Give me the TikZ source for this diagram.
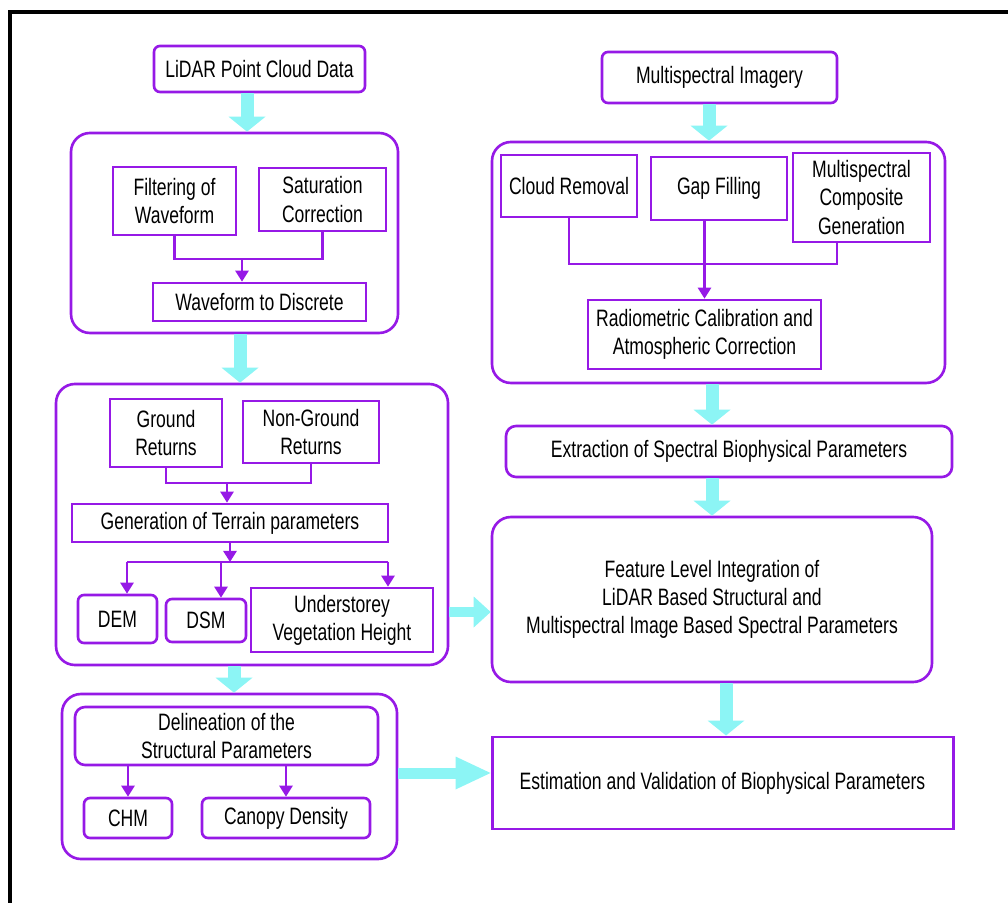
\documentclass[tikz,border=0pt]{standalone}
\usepackage{fontspec}
\setmainfont{Liberation Sans}[FakeStretch=0.74]
\usepackage{tikz}
\usetikzlibrary{arrows.meta}
\definecolor{boxpurple}{RGB}{150,25,230}
\definecolor{flowcyan}{RGB}{140,245,245}

\begin{document}
\begin{tikzpicture}[
    font=\fontsize{13.5}{16}\selectfont,
    box/.style={shape=rectangle, draw=boxpurple, line width=1.5pt, align=center, inner sep=0pt},
    rbox/.style={box, rounded corners=0.12cm},
    group/.style={box, rounded corners=0.38cm},
    wire/.style={draw=boxpurple, line width=1.5pt},
    flow/.style={wire, -{Triangle[width=0.26cm,length=0.22cm]}},
    bigarrow/.style={draw=flowcyan, line width=0.26cm, -{Triangle[width=0.74cm,length=0.3cm,line width=0pt]}},
    sidearrow/.style={draw=flowcyan, line width=0.2cm, -{Triangle[width=0.62cm,length=0.34cm,line width=0pt]}},
    widearrow/.style={draw=flowcyan, line width=0.22cm, -{Triangle[width=0.66cm,length=0.7cm,line width=0pt]}}
]
    \useasboundingbox (0,0) rectangle (20.16,18.04);
    \clip (0,0) rectangle (20.16,18.04);
    \draw[line width=2pt] (0.2,-1) rectangle (21,17.8);

    % Paths, nodes and wires (LiDAR side):
    \node[rbox, minimum width=4.22cm, minimum height=0.92cm](N1) at (5.19, 16.66){LiDAR Point Cloud Data};
    \node[group, minimum width=6.54cm, minimum height=4.0cm](G1) at (4.69, 13.38){};
    \node[box, minimum width=2.46cm, minimum height=1.36cm](N2) at (3.49, 14.02){Filtering of\\Waveform};
    \node[box, minimum width=2.54cm, minimum height=1.26cm](N3) at (6.45, 14.05){Saturation\\Correction};
    \node[box, minimum width=4.26cm, minimum height=0.76cm](N4) at (5.19, 12.0){Waveform to Discrete};
    \coordinate (J1) at (4.84, 12.86);
    \draw[wire] (N2.south) |- (J1) -| (N3.south);
    \draw[flow] (J1) -- (J1 |- N4.north);

    \node[group, minimum width=7.84cm, minimum height=5.62cm](G2) at (5.04, 7.55){};
    \node[box, minimum width=2.24cm, minimum height=1.36cm](N5) at (3.32, 9.38){Ground\\Returns};
    \node[box, minimum width=2.72cm, minimum height=1.24cm](N6) at (6.22, 9.40){Non-Ground\\Returns};
    \node[box, minimum width=6.32cm, minimum height=0.76cm](N7) at (4.60, 7.58){Generation of Terrain parameters};
    \node[rbox, minimum width=1.58cm, minimum height=0.96cm](N8) at (2.35, 5.66){DEM};
    \node[rbox, minimum width=1.60cm, minimum height=0.86cm](N9) at (4.12, 5.63){DSM};
    \node[box, minimum width=3.64cm, minimum height=1.28cm](N10) at (6.84, 5.64){Understorey\\Vegetation Height};
    \coordinate (J2) at (4.54, 8.38);
    \coordinate (J3) at (4.60, 6.80);
    \coordinate (J4) at (2.54, 6.80);
    \coordinate (J5) at (4.42, 6.80);
    \coordinate (J6) at (7.76, 6.80);
    \draw[wire] (N5.south) |- (J2) -| (N6.south);
    \draw[flow] (J2) -- (J2 |- N7.north);
    \draw[flow] (N7.south) -- (J3);
    \draw[wire] (J4) -- (J6);
    \draw[flow] (J4) -- (J4 |- N8.north);
    \draw[flow] (J5) -- (J5 |- N9.north);
    \draw[flow] (J6) -- (J6 |- N10.north);

    \node[group, minimum width=6.70cm, minimum height=3.30cm](G3) at (4.59, 2.51){};
    \node[box, rounded corners=0.2cm, minimum width=6.06cm, minimum height=1.16cm](N11) at (4.53, 3.32){Delineation of the\\Structural Parameters};
    \node[rbox, minimum width=1.76cm, minimum height=0.80cm](N12) at (2.56, 1.68){CHM};
    \node[rbox, minimum width=3.36cm, minimum height=0.80cm](N13) at (5.72, 1.68){Canopy Density};
    \draw[flow] (N11.south -| N12.north) -- (N12.north);
    \draw[flow] (N11.south -| N13.north) -- (N13.north);

    % Multispectral side:
    \node[rbox, minimum width=4.70cm, minimum height=1.02cm](N14) at (14.39, 16.49){Multispectral Imagery};
    \node[group, minimum width=9.06cm, minimum height=4.82cm](G4) at (14.37, 12.79){};
    \node[box, minimum width=2.72cm, minimum height=1.24cm](N15) at (11.38, 14.32){Cloud Removal};
    \node[box, minimum width=2.72cm, minimum height=1.26cm](N16) at (14.38, 14.27){Gap Filling};
    \node[box, minimum width=2.74cm, minimum height=1.78cm](N17) at (17.23, 14.09){Multispectral\\Composite\\Generation};
    \node[box, minimum width=4.66cm, minimum height=1.38cm](N18) at (14.09, 11.35){Radiometric Calibration and\\Atmospheric Correction};
    \coordinate (J7) at (14.10, 12.76);
    \draw[wire] (N15.south) |- (J7) -| ([xshift=-0.49cm]N17.south);
    \draw[flow] (N18.north |- N16.south) -- (N18.north);

    \node[box, rounded corners=0.2cm, minimum width=8.92cm, minimum height=1.02cm](N19) at (14.58, 9.01){Extraction of Spectral Biophysical Parameters};
    \node[group, minimum width=8.80cm, minimum height=3.30cm](N20) at (14.24, 6.05){Feature Level Integration of\\LiDAR Based Structural and\\Multispectral Image Based Spectral Parameters};
    \node[box, line width=1.7pt, minimum width=9.22cm, minimum height=1.84cm](N21) at (14.45, 2.38){Estimation and Validation of Biophysical Parameters};

    % Big arrows:
    \draw[bigarrow] (N1.south -| 4.94,0) -- (G1.north -| 4.94,0);
    \draw[bigarrow] (G1.south -| 4.80,0) -- (G2.north -| 4.80,0);
    \draw[bigarrow] (G2.south -| 4.68,0) -- (G3.north -| 4.68,0);
    \draw[bigarrow] (N14.south -| 14.18,0) -- (G4.north -| 14.18,0);
    \draw[bigarrow] (G4.south -| 14.24,0) -- (N19.north -| 14.24,0);
    \draw[bigarrow] (N19.south -| N20.north) -- (N20.north);
    \draw[bigarrow] (N20.south -| 14.52,0) -- (N21.north -| 14.52,0);
    \draw[sidearrow] (G2.east |- 0,5.80) -- (N20.west |- 0,5.80);
    \draw[widearrow] (G3.east |- 0,2.58) -- (N21.west |- 0,2.58);
\end{tikzpicture}
\end{document}
